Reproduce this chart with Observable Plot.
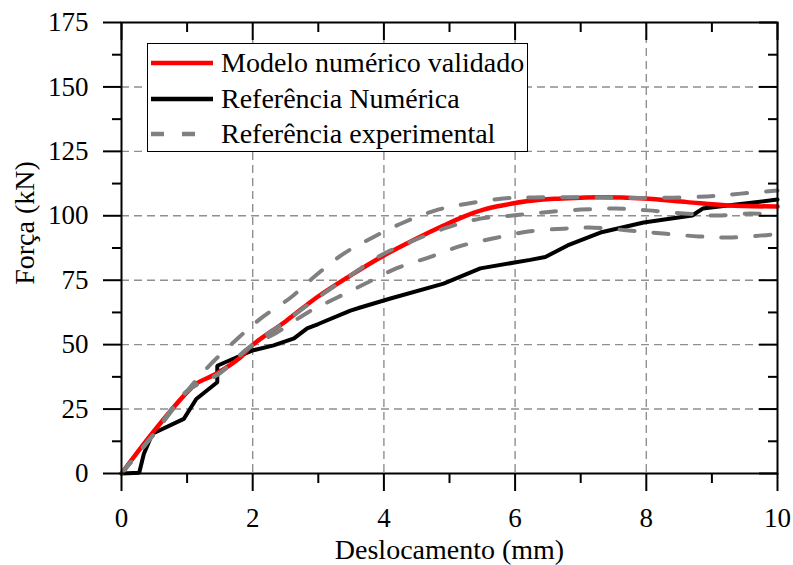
<!DOCTYPE html>
<html><head><meta charset="utf-8">
<script src="https://cdn.jsdelivr.net/npm/d3@7"></script>
<script src="https://cdn.jsdelivr.net/npm/@observablehq/plot@0.6"></script>
<style>
body{margin:0;background:#fff;}
#wrap{position:relative;width:793px;height:565px;font-family:"Liberation Serif","Times New Roman",serif;}
#legend{position:absolute;left:147px;top:43px;width:381px;height:109px;border:1.5px solid #000;background:#fff;box-sizing:border-box;}
.row{position:absolute;left:0;height:30px;display:flex;align-items:center;font-size:28px;line-height:30px;white-space:nowrap;}
.row svg{margin-left:3px;margin-right:8px;}
</style></head>
<body>
<div id="wrap"></div>
<script>
// Modelo numérico validado
const modelX = [0, 0.44, 0.98, 1.15, 1.43, 1.81, 1.99, 2.5, 2.98, 3.5, 4.0, 4.5, 4.91, 5.2, 5.52, 5.8, 6.2, 6.6, 7.0, 7.3, 7.96, 8.62, 9.24, 10];
const modelY = [0, 14.7, 31, 35, 38.5, 45, 49.7, 59, 68.4, 77, 84.6, 91.2, 96.2, 99.5, 102.4, 104, 105.7, 106.6, 107, 107.2, 106.7, 105.3, 104, 103.6];
// Referência Numérica
const numX = [0, 0.27, 0.34, 0.47, 0.95, 1.14, 1.46, 1.46, 1.81, 1.99, 2.32, 2.63, 2.83, 3.0, 3.49, 3.64, 4.1, 4.91, 5.47, 6.23, 6.46, 6.8, 7.3, 7.96, 8.7, 8.86, 9.24, 10];
const numY = [0, 0.3, 7.6, 15.4, 21.2, 28.9, 35.4, 41.8, 45.7, 47.7, 49.7, 52.4, 56.3, 58, 63.2, 64.4, 67.9, 73.7, 79.6, 82.9, 84, 88.5, 93.5, 97.4, 100.1, 102.8, 104, 106.3];
// Referência experimental (three specimens)
const expAX = [0, 0.5, 1.0, 1.31, 1.77, 2.12, 2.58, 2.96, 3.37, 3.8, 4.3, 4.79, 5.29, 5.82, 6.28, 7.3, 7.96, 8.93, 9.44, 10];
const expAY = [0, 15.5, 32, 41.1, 52.4, 60.1, 68.3, 76.8, 85, 91.2, 97.4, 102.1, 104.8, 106.7, 107.1, 107.2, 106.9, 107.5, 108.6, 109.8];
const expBX = [0, 0.5, 1.0, 1.5, 2.0, 2.5, 3.0, 3.5, 3.95, 4.45, 4.97, 5.47, 5.96, 6.43, 7.0, 7.53, 8.02, 8.57, 9.08, 9.59, 9.9];
const expBY = [0, 15.5, 32, 39, 50, 59, 68.4, 77, 84.6, 90.4, 95.5, 98.9, 100.1, 101.3, 102.4, 102.8, 102.1, 100.9, 100.1, 100.9, 100.6];
const expCX = [0, 0.5, 1.0, 1.5, 1.95, 2.37, 2.84, 3.29, 3.72, 4.19, 4.7, 5.2, 5.7, 6.2, 6.74, 7.2, 7.73, 8.26, 8.8, 9.31, 9.9];
const expCY = [0, 15.5, 32, 39, 49, 54.7, 62.5, 68.3, 73.7, 79.6, 84, 88.5, 91.4, 93.9, 95, 95.4, 94.3, 93.1, 92, 91.6, 92.7];

const xTicks = [0, 2, 4, 6, 8, 10];
const xMinor = [1, 3, 5, 7, 9];
const yTicks = [0, 25, 50, 75, 100, 125, 150, 175];
const yMinor = [12.5, 37.5, 62.5, 87.5, 112.5, 137.5, 162.5];
const seriesNames = ["Modelo numérico validado", "Referência Numérica", "Referência experimental"];
const xTitle = "Deslocamento (mm)";
const yTitle = "Força (kN)";

const rows = (xs, ys, s) => xs.map((x, i) => ({x, y: ys[i], s}));
const modelRows = rows(modelX, modelY, "m");
const numRows = rows(numX, numY, "n");
const expRows = [...rows(expAX, expAY, "a"), ...rows(expBX, expBY, "b"), ...rows(expCX, expCY, "c")];

const W = 793, H = 565, mL = 121, mR = 16, mT = 22, mB = 92;
const frameW = W - mL - mR, frameH = H - mT - mB;
const majorLen = 18, minorLen = 9;

const gridStyle = {stroke: "#8f8f8f", strokeOpacity: 1, strokeWidth: 1.4, strokeDasharray: "8,5"};
const tk = {strokeWidth: 2, label: null};
const blank = () => "";

const chart = Plot.plot({
  width: W, height: H,
  marginLeft: mL, marginRight: mR, marginTop: mT, marginBottom: mB,
  x: {domain: [0, 10], label: null},
  y: {domain: [0, 175], label: null},
  style: {fontFamily: "'Liberation Serif','Times New Roman',serif", fontSize: "27px", background: "#fff", color: "#000", overflow: "visible"},
  marks: [
    Plot.gridX(xTicks.slice(1, -1), gridStyle),
    Plot.gridY(yTicks.slice(1, -1), gridStyle),
    Plot.line(numRows, {x: "x", y: "y", stroke: "#000", strokeWidth: 4, strokeLinejoin: "miter"}),
    Plot.line(modelRows, {x: "x", y: "y", stroke: "#ff0000", strokeWidth: 4.5, curve: "catmull-rom"}),
    Plot.line(expRows, {x: "x", y: "y", z: "s", stroke: "#808080", strokeWidth: 4, strokeDasharray: "15,19", curve: "catmull-rom"}),
    Plot.frame({stroke: "#000", strokeWidth: 2}),
    // bottom / left: outward ticks with labels
    Plot.axisX(xTicks, {anchor: "bottom", tickSize: majorLen, tickPadding: 16, ...tk}),
    Plot.axisX(xMinor, {anchor: "bottom", tickSize: 10, tickFormat: blank, ...tk}),
    Plot.axisY(yTicks, {anchor: "left", tickSize: majorLen, tickPadding: 15, ...tk}),
    Plot.axisY(yMinor, {anchor: "left", tickSize: minorLen, tickFormat: blank, ...tk}),
    // top / right: inward ticks
    Plot.tickX(xTicks, {x: d => d, stroke: "#000", strokeWidth: 2, insetBottom: frameH - majorLen}),
    Plot.tickX(xMinor, {x: d => d, stroke: "#000", strokeWidth: 2, insetBottom: frameH - 10}),
    Plot.tickY(yTicks, {y: d => d, stroke: "#000", strokeWidth: 2, insetLeft: frameW - majorLen}),
    Plot.tickY(yMinor, {y: d => d, stroke: "#000", strokeWidth: 2, insetLeft: frameW - minorLen}),
    Plot.text([xTitle], {frameAnchor: "bottom", dy: 77, fontSize: 28, textAnchor: "middle", lineAnchor: "middle"}),
    Plot.text([yTitle], {frameAnchor: "left", rotate: -90, dx: -96, dy: -25, fontSize: 28, textAnchor: "middle", lineAnchor: "middle"})
  ]
});

const wrap = document.getElementById("wrap");
wrap.appendChild(chart);

// Legend (inside the plot area, top-left)
const legend = document.createElement("div");
legend.id = "legend";
const legendStyles = [
  {stroke: "#ff0000", dash: null},
  {stroke: "#000", dash: null},
  {stroke: "#808080", dash: "13,18"}
];
const rowTops = [4, 40, 75];
seriesNames.forEach((name, i) => {
  const r = document.createElement("div");
  r.className = "row";
  r.style.top = rowTops[i] + "px";
  const st = legendStyles[i];
  r.innerHTML = `<svg width="62" height="10"><line x1="0" y1="5" x2="62" y2="5" stroke="${st.stroke}" stroke-width="4.5" ${st.dash ? `stroke-dasharray="${st.dash}"` : ""}/></svg><span></span>`;
  r.querySelector("span").textContent = name;
  legend.appendChild(r);
});
wrap.appendChild(legend);
</script>
</body></html>
